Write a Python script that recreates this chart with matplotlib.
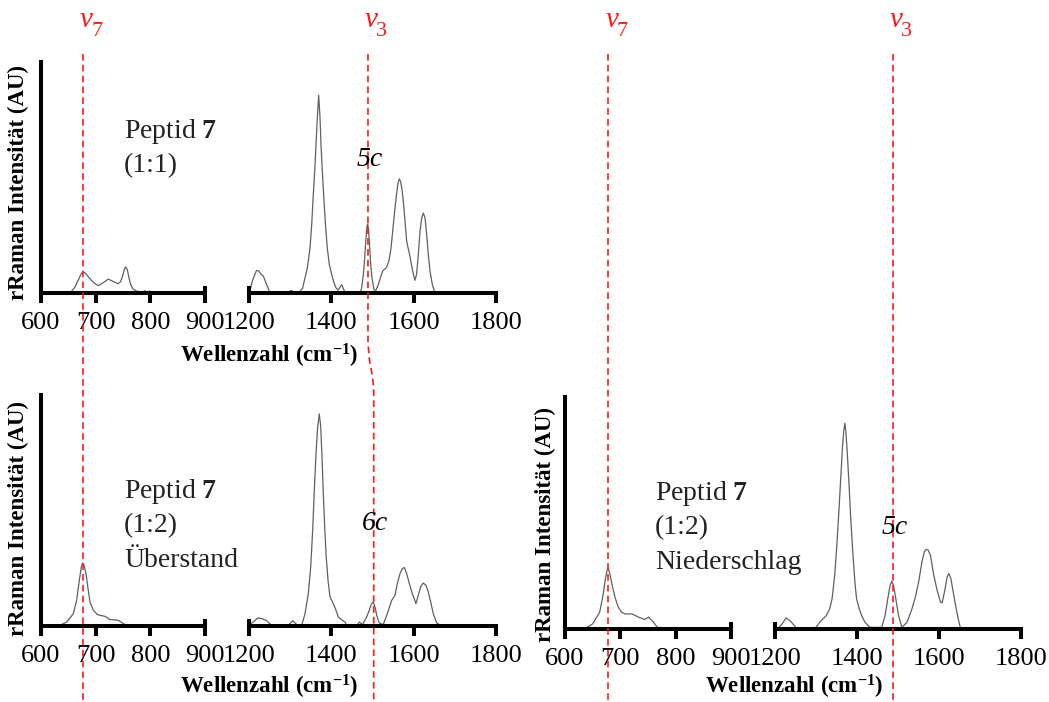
import matplotlib
matplotlib.use('Agg')
import matplotlib.pyplot as plt
from matplotlib.lines import Line2D

plt.rcParams['font.family'] = 'Liberation Serif'
plt.rcParams['mathtext.fontset'] = 'custom'
plt.rcParams['mathtext.rm'] = 'Liberation Serif'
plt.rcParams['mathtext.it'] = 'Liberation Serif:italic'
plt.rcParams['mathtext.bf'] = 'Liberation Serif:bold'

# Peptid 7 (1:1) - oben
a_lo_x = [653, 662, 670, 674, 677, 681, 686, 692, 699, 705, 714, 723, 732, 741, 746, 750, 753, 755, 758, 761, 764,
          768, 775, 785, 790, 795, 800, 805]
a_lo_y = [0, 2.5, 6.5, 8.5, 9.2, 8.6, 7.2, 5.5, 4.0, 3.2, 4.5, 6.0, 5.0, 4.0, 5.0, 8.0, 10.5, 11.3, 10.0, 6.5, 3.8,
          1.8, 0.8, 0.3, 0.9, 0.5, 0.8, 0]
a_hi_x = [1201, 1204, 1208, 1212, 1218, 1223, 1229, 1235, 1243, 1251, 1296, 1300, 1304, 1310, 1320, 1330,
          1336.0, 1341.7, 1348.2, 1352.3, 1356.2, 1359.6, 1362.8, 1365.9, 1369.3, 1372.5, 1374.9, 1378.1, 1382.2,
          1386.3, 1390.2, 1395.1, 1400.9, 1406.5, 1411.3, 1417, 1421, 1425, 1429, 1433, 1470,
          1473.7, 1477.7, 1481.0, 1484.2, 1486.6, 1488.3, 1490.7, 1493.2, 1495.6, 1498.8, 1503.6, 1508, 1514, 1520,
          1525, 1534, 1540, 1545, 1554.6, 1558.8, 1562.0, 1565.2, 1568.4, 1571.7, 1574.9, 1579.0, 1583.0, 1591,
          1597, 1603, 1607, 1611.3, 1615.4, 1619.5, 1623.5, 1627.6, 1631.7, 1635.6, 1639.7, 1645.4, 1650, 1656]
a_hi_y = [0, 2.2, 5.0, 7.0, 9.7, 9.7, 8.2, 7.2, 3.6, 0, 0, 1, 1, 0, 0, 2,
          6.5, 10.8, 19.5, 29.6, 42.6, 52.7, 64.2, 75.8, 85.6, 75.8, 64.2, 52.7, 39.7,
          28.2, 19.5, 12.3, 8.0, 4.4, 2.2, 1.3, 2.5, 3.6, 2.0, 0.3, 0,
          2.2, 8.0, 15.2, 23.8, 28.9, 29.9, 26.7, 19.5, 12.3, 6.5, 1.5, 1.0, 3.6, 7,
          9.6, 11.0, 14, 19.5, 36.8, 43.3, 47.6, 49.4, 48.1, 44.7, 39.7, 31.0, 22.4, 15.9,
          10, 5.5, 8, 16.6, 26.7, 32.5, 34.6, 32.5, 25.3, 16.6, 9.4, 3.6, 1.0, 0]

# Peptid 7 (1:2) Überstand
b_lo_x = [632, 647, 659.1, 665.2, 670.1, 673.8, 676.2, 678.7, 682.3, 686.0, 689.6, 695.7, 703.0, 708, 717, 726,
          741, 754, 760]
b_lo_y = [0, 1.7, 5.3, 11.1, 19.8, 25.6, 27.3, 26.3, 22.7, 16.2, 10.4, 6.8, 5.0, 4.6, 4.2, 2.8,
          2.5, 0.6, 0]
b_hi_x = [1201, 1210, 1222, 1231, 1243, 1253, 1296, 1306, 1316, 1328.0, 1336.0, 1344.1, 1349.9, 1354.7, 1358.7,
          1362.8, 1366.9, 1370.8, 1374.2, 1377.3, 1380.5, 1383.9, 1387.0, 1391.9, 1396.8, 1404.8, 1411.3, 1416.9,
          1425.2, 1433.2, 1437.3, 1462, 1468, 1476, 1485.8, 1492.2, 1497.1, 1501.9, 1506.1, 1510.2, 1516.5, 1526,
          1536.0, 1546.6, 1554.6, 1560.3, 1566.8, 1572.5, 1577.3, 1583.0, 1589.4, 1596.7, 1605.6, 1611.3, 1617.1,
          1623.5, 1629.9, 1635.6, 1641.4, 1647.7, 1655.9, 1668]
b_hi_y = [0.5, 1.7, 3.5, 3.2, 2.3, 0.6, 0.3, 2.3, 0.6, 0.3, 5.3, 14.0, 25.6, 41.5, 58.8,
          74.7, 86.3, 91.8, 86.3, 73.3, 57.4, 42.9, 31.4, 19.8, 12.6, 9.7, 6.8, 3.9,
          2.7, 1.7, 0.3, 0, 1.7, 0.6, 3.9, 6.8, 9.4, 10.4, 8.2, 4.6, 1.3, 0.6,
          5.3, 11.1, 13.3, 18.4, 22.7, 24.9, 25.3, 22.7, 18.4, 14.0, 9.7, 13.3, 17.1,
          18.6, 17.6, 14.7, 10.4, 5.3, 1.3, 0]

# Peptid 7 (1:2) Niederschlag
c_lo_x = [635, 650, 662.6, 668.7, 673.0, 676.1, 677.9, 681.0, 685.3, 690.2, 696.3, 702.5, 708.6, 721, 733, 744,
          751, 759, 767, 788, 797, 807]
c_lo_y = [0, 2.2, 7.2, 14.5, 21.7, 25.4, 26.1, 23.9, 18.8, 13.8, 9.4, 7.2, 6.5, 6.5, 5.1, 4.1,
          5.1, 3.2, 0.7, 0.3, 0.7, 0]
c_hi_x = [1208, 1219, 1227, 1239, 1252, 1297, 1309, 1325.2, 1333.4, 1339.2, 1345.7, 1351.4, 1356.3, 1360.4, 1364.5,
          1367.8, 1370.3, 1372.7, 1376.0, 1380.1, 1384.2, 1389.1, 1394.8, 1398.9, 1405.5, 1411.2, 1419.4, 1427.6,
          1432, 1460.3, 1468.5, 1475.0, 1480.8, 1484.9, 1489.0, 1494.7, 1501.3, 1509.4, 1522, 1534, 1542,
          1550.4, 1558.5, 1564.3, 1568.4, 1573.3, 1579.0, 1587.2, 1595.4, 1603.6, 1607.7, 1614.2, 1620.0, 1624.1,
          1629.0, 1633.9, 1640.5, 1647.0, 1652.8]
c_hi_y = [0.3, 2.6, 4.8, 3.2, 0.3, 0, 2.9, 5.8, 8.7, 13.0, 23.2, 37.7, 52.2, 65.2, 78.3,
          85.5, 88.7, 85.5, 76.8, 63.8, 49.3, 34.8, 20.3, 13.0, 8.7, 5.8, 2.9, 1.4,
          0.7, 0.7, 5.8, 13.0, 18.8, 20.6, 18.8, 13.0, 5.8, 0.7, 2.9, 8.7, 13.5,
          20.3, 29.0, 33.3, 34.3, 34.1, 31.9, 23.2, 16.7, 11.6, 11.3, 16.7, 22.5, 23.9,
          21.7, 16.7, 10.1, 4.3, 0]

ticks_lo = [600, 700, 800, 900]
ticks_hi = [1200, 1400, 1600, 1800]

W, H = 1049, 702
fig = plt.figure(figsize=(W / 100, H / 100), dpi=100)


def fx(x):
    return x / W


def fy(y):
    return 1 - y / H


def panel(left1, right1, left2, right2, top, bottom, xl, yl, xh, yh):
    r1 = [fx(left1), fy(bottom), fx(right1 - left1), (bottom - top) / H]
    r2 = [fx(left2), fy(bottom), fx(right2 - left2), (bottom - top) / H]
    ax1 = fig.add_axes(r1)
    ax2 = fig.add_axes(r2)
    for ax, xs, ys, lim, tk in [(ax1, xl, yl, (600, 900), ticks_lo), (ax2, xh, yh, (1200, 1800), ticks_hi)]:
        ax.plot(xs, ys, color='#606060', lw=0.9)
        ax.set_xlim(lim)
        ax.set_ylim(0, 100)
        ax.set_xticks(tk)
        ax.set_yticks([])
        ax.patch.set_alpha(0)
        ax.spines['top'].set_visible(False)
        for s in ['left', 'right', 'bottom']:
            ax.spines[s].set_linewidth(2.9)
        ax.tick_params(axis='x', direction='out', length=7, width=2.9, labelsize=19, pad=7)
    ax1.spines['right'].set_bounds(0, 2.2)
    ax2.spines['left'].set_bounds(0, 2.2)
    ax2.spines['right'].set_visible(False)
    return ax1, ax2


a1, a2 = panel(41, 205, 249, 496, 62, 293, a_lo_x, a_lo_y, a_hi_x, a_hi_y)
b1, b2 = panel(41, 205, 249, 496, 395, 626, b_lo_x, b_lo_y, b_hi_x, b_hi_y)
c1, c2 = panel(565, 731, 775, 1021, 397, 629, c_lo_x, c_lo_y, c_hi_x, c_hi_y)

# Achsenbeschriftungen
ylab = 'rRaman Intensität (AU)'
xlab = r'Wellenzahl (cm$^{\mathbf{-1}}$)'
for x, y in [(18, 182), (18, 518), (545, 524)]:
    fig.text(fx(x), fy(y), ylab, rotation=90, ha='center', va='center', fontsize=16.5, fontweight='bold')
for x, y in [(269, 363), (269, 694), (794, 694)]:
    fig.text(fx(x), fy(y), xlab, ha='center', va='baseline', fontsize=16.5, fontweight='bold')

# Probenbeschriftungen
labels = [
    (124, 138, ['Peptid $\\mathbf{7}$', '(1:1)']),
    (124, 498, ['Peptid $\\mathbf{7}$', '(1:2)', 'Überstand']),
    (655, 500, ['Peptid $\\mathbf{7}$', '(1:2)', 'Niederschlag']),
]
for x, y, lines in labels:
    for i, t in enumerate(lines):
        fig.text(fx(x), fy(y + i * 34.5), t, ha='left', va='baseline', fontsize=20, color='#222222')

for x, y, t in [(357, 166, '5c'), (362, 530, '6c'), (882, 534, '5c')]:
    fig.text(fx(x), fy(y), t, ha='left', va='baseline', fontsize=20, style='italic')


# rote Markierungslinien
def xpix(ax, v):
    return ax.transData.transform((v, 0))[0]


red = '#ff1a1a'
dash = (0, (4, 2.5))
lines_px = [
    [(xpix(a1, 677), 54), (xpix(a1, 677), 700)],
    [(xpix(a2, 1489), 54), (xpix(a2, 1489), 343), (xpix(a2, 1489) + 1.5, 360),
     (xpix(b2, 1503) - 1, 378), (xpix(b2, 1503), 392), (xpix(b2, 1503), 700)],
    [(xpix(c1, 678), 54), (xpix(c1, 678), 700)],
    [(xpix(c2, 1488), 54), (xpix(c2, 1488), 700)],
]
for pts in lines_px:
    xs = [fx(p[0]) for p in pts]
    ys = [fy(p[1]) for p in pts]
    fig.add_artist(Line2D(xs, ys, color=red, lw=1.2, linestyle=dash))

for ax, v, n in [(a1, 677, '7'), (a2, 1489, '3'), (c1, 678, '7'), (c2, 1488, '3')]:
    x0 = xpix(ax, v) - 3
    fig.text(fx(x0), fy(27), 'v', color=red, fontsize=21, style='italic', ha='left', va='baseline')
    fig.text(fx(x0 + 11), fy(36), n, color=red, fontsize=16, ha='left', va='baseline')

fig.savefig('out.png', dpi=100)
